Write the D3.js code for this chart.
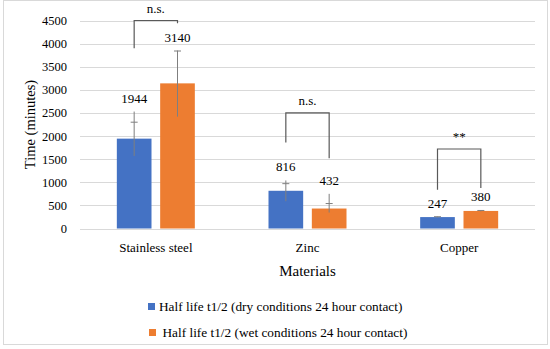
<!DOCTYPE html>
<html>
<head>
<meta charset="utf-8">
<script src="https://cdnjs.cloudflare.com/ajax/libs/d3/7.8.5/d3.min.js"></script>
<style>
    body { margin: 0; background: #fff; }
    svg text { font-family: "Liberation Serif", "Times New Roman", serif; fill: #000; }
</style>
</head>
<body>
<div id="chart"></div>
<script>
    // categories and series
    var materials = ['Stainless steel', 'Zinc', 'Copper'];
    var seriesNames = [
        'Half life t1/2 (dry conditions 24 hour contact)',
        'Half life t1/2 (wet conditions 24 hour contact)'
    ];
    var dryValues = [1944, 816, 247];
    var wetValues = [3140, 432, 380];

    // error bars: top of stem, cap, bottom of stem (minutes)
    var dryErrTop = [2530, 1040, 255];
    var dryErrCap = [2300, 970, 255];
    var dryErrLow = [1570, 590, 240];
    var wetErrTop = [3850, 750, 390];
    var wetErrCap = [3840, 540, 390];
    var wetErrLow = [2420, 345, 372];

    // significance brackets
    var sigLabels = ['n.s.', 'n.s.', '**'];
    var sigTop = [4500, 2500, 1720];
    var sigLeftEnd = [3900, 1860, 840];
    var sigRightEnd = [4440, 1520, 876];

    var yTicks = [0, 500, 1000, 1500, 2000, 2500, 3000, 3500, 4000, 4500];
    var colors = ['#4472C4', '#ED7D31'];

    var width = 550, height = 349;
    var plot = {left: 80, right: 535, top: 20.5, bottom: 228.5};
    var serif = '"Liberation Serif", "Times New Roman", serif';

    var svg = d3.select('#chart').append('svg')
        .attr('width', width)
        .attr('height', height);

    // outer frame
    svg.append('rect')
        .attr('x', 3.5).attr('y', 0.5)
        .attr('width', 544).attr('height', 344)
        .attr('fill', 'none')
        .attr('stroke', '#d9d9d9');

    var x0 = d3.scaleBand().domain(materials).range([plot.left, plot.right]);
    var x1 = d3.scaleBand().domain([0, 1])
        .range([x0.bandwidth() / 2 - 39, x0.bandwidth() / 2 + 39])
        .paddingInner(0.2);
    var y = d3.scaleLinear().domain([0, 4500]).range([plot.bottom, plot.top]);

    // gridlines
    svg.append('g').selectAll('line').data(yTicks).join('line')
        .attr('x1', plot.left).attr('x2', plot.right)
        .attr('y1', function (d) { return Math.round(y(d)) + 0.5; })
        .attr('y2', function (d) { return Math.round(y(d)) + 0.5; })
        .attr('stroke', '#d9d9d9');

    // y axis labels
    var yAxis = d3.axisLeft(y).tickValues(yTicks).tickFormat(d3.format('d'))
        .tickSize(0).tickPadding(13);
    var yg = svg.append('g')
        .attr('transform', 'translate(' + plot.left + ',0)')
        .call(yAxis)
        .attr('font-family', serif)
        .attr('font-size', 12.5);
    yg.select('.domain').remove();

    // x axis labels
    var xAxis = d3.axisBottom(x0).tickSize(0).tickPadding(14);
    var xg = svg.append('g')
        .attr('transform', 'translate(0,' + plot.bottom + ')')
        .call(xAxis)
        .attr('font-family', serif)
        .attr('font-size', 13);
    xg.select('.domain').remove();

    // axis titles
    svg.append('text')
        .attr('transform', 'translate(35,' + ((plot.top + plot.bottom) / 2) + ') rotate(-90)')
        .attr('text-anchor', 'middle')
        .style('font-size', '14.5px')
        .text('Time (minutes)');
    svg.append('text')
        .attr('x', (plot.left + plot.right) / 2)
        .attr('y', 276)
        .attr('text-anchor', 'middle')
        .style('font-size', '15px')
        .text('Materials');

    var rows = materials.map(function (m, i) {
        return {
            name: m,
            bars: [
                {s: 0, v: dryValues[i], top: dryErrTop[i], cap: dryErrCap[i], low: dryErrLow[i]},
                {s: 1, v: wetValues[i], top: wetErrTop[i], cap: wetErrCap[i], low: wetErrLow[i]}
            ]
        };
    });

    var groups = svg.append('g').selectAll('g').data(rows).join('g')
        .attr('transform', function (d) { return 'translate(' + x0(d.name) + ',0)'; });

    groups.selectAll('rect').data(function (d) { return d.bars; }).join('rect')
        .attr('x', function (d) { return x1(d.s); })
        .attr('y', function (d) { return y(d.v); })
        .attr('width', x1.bandwidth())
        .attr('height', function (d) { return y(0) - y(d.v); })
        .attr('fill', function (d) { return colors[d.s]; });

    // error bars
    var err = groups.selectAll('g.err').data(function (d) { return d.bars; }).join('g')
        .attr('class', 'err')
        .attr('transform', function (d) { return 'translate(' + (x1(d.s) + x1.bandwidth() / 2) + ',0)'; });
    err.append('line')
        .attr('x1', 0).attr('x2', 0)
        .attr('y1', function (d) { return y(d.top); })
        .attr('y2', function (d) { return y(d.low); })
        .attr('stroke', '#7f7f7f');
    err.append('line')
        .attr('x1', -3.5).attr('x2', 3.5)
        .attr('y1', function (d) { return y(d.cap); })
        .attr('y2', function (d) { return y(d.cap); })
        .attr('stroke', '#7f7f7f');

    // value labels
    groups.selectAll('text.val').data(function (d) { return d.bars; }).join('text')
        .attr('class', 'val')
        .attr('x', function (d) { return x1(d.s) + x1.bandwidth() / 2; })
        .attr('y', function (d) { return y(Math.max(d.top, d.v)) - 9; })
        .attr('text-anchor', 'middle')
        .style('font-size', '13px')
        .text(function (d) { return d.v; });

    // significance brackets
    var sig = groups.append('g').attr('class', 'sig');
    sig.append('path')
        .attr('d', function (d, i) {
            var xl = x1(0) + x1.bandwidth() / 2,
                xr = x1(1) + x1.bandwidth() / 2;
            return 'M' + xl + ',' + y(sigLeftEnd[i]) +
                'V' + y(sigTop[i]) +
                'H' + xr +
                'V' + y(sigRightEnd[i]);
        })
        .attr('fill', 'none')
        .attr('stroke', '#595959')
        .attr('stroke-width', 1.2);
    sig.append('text')
        .attr('x', x0.bandwidth() / 2)
        .attr('y', function (d, i) { return y(sigTop[i]) - 8; })
        .attr('text-anchor', 'middle')
        .style('font-size', '13px')
        .text(function (d, i) { return sigLabels[i]; });

    // legend
    var legend = svg.append('g').selectAll('g').data(seriesNames).join('g')
        .attr('transform', function (d, i) { return 'translate(' + (148 + i) + ',' + (303 + i * 26) + ')'; });
    legend.append('rect')
        .attr('width', 7).attr('height', 7)
        .attr('fill', function (d, i) { return colors[i]; });
    legend.append('text')
        .attr('x', function (d, i) { return 11 + i * 2.5; })
        .attr('y', 7.5)
        .style('font-size', '13.3px')
        .text(function (d) { return d; });
</script>
</body>
</html>
